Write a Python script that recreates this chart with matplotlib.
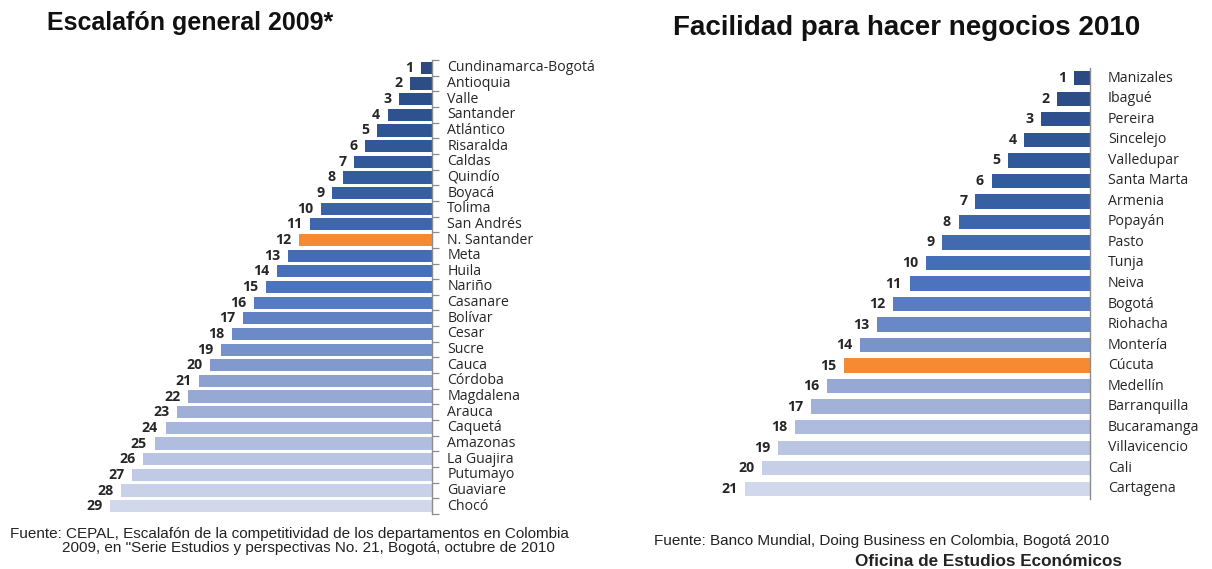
import matplotlib
matplotlib.use("Agg")
import matplotlib.pyplot as plt
from matplotlib.colors import LinearSegmentedColormap, to_hex

# ---------------- data ----------------
left_names = ["Cundinamarca-Bogotá", "Antioquia", "Valle", "Santander", "Atlántico",
              "Risaralda", "Caldas", "Quindío", "Boyacá", "Tolima", "San Andrés",
              "N. Santander", "Meta", "Huila", "Nariño", "Casanare", "Bolívar",
              "Cesar", "Sucre", "Cauca", "Córdoba", "Magdalena", "Arauca",
              "Caquetá", "Amazonas", "La Guajira", "Putumayo", "Guaviare", "Chocó"]
left_ranks = [1, 2, 3, 4, 5, 6, 7, 8, 9, 10, 11, 12, 13, 14, 15, 16, 17, 18, 19,
              20, 21, 22, 23, 24, 25, 26, 27, 28, 29]
left_highlight = "N. Santander"

right_names = ["Manizales", "Ibagué", "Pereira", "Sincelejo", "Valledupar",
               "Santa Marta", "Armenia", "Popayán", "Pasto", "Tunja", "Neiva",
               "Bogotá", "Riohacha", "Montería", "Cúcuta", "Medellín",
               "Barranquilla", "Bucaramanga", "Villavicencio", "Cali", "Cartagena"]
right_ranks = [1, 2, 3, 4, 5, 6, 7, 8, 9, 10, 11, 12, 13, 14, 15, 16, 17, 18,
               19, 20, 21]
right_highlight = "Cúcuta"

title_left = "Escalafón general 2009*"
title_right = "Facilidad para hacer negocios 2010"
source_left_1 = "Fuente: CEPAL, Escalafón de la competitividad de los departamentos en Colombia"
source_left_2 = "2009, en \"Serie Estudios y perspectivas No. 21, Bogotá, octubre de 2010"
source_right = "Fuente: Banco Mundial, Doing Business en Colombia, Bogotá 2010"
office = "Oficina de Estudios Económicos"

# ---------------- style ----------------
ORANGE = "#F58A33"
cmap = LinearSegmentedColormap.from_list(
    "blues", [(0.0, "#2B4A82"), (0.25, "#335C9E"), (0.5, "#4A73BE"),
              (0.72, "#8EA2D1"), (1.0, "#D2D8EB")])
LABEL_FONT = ["Open Sans", "DejaVu Sans"]
TITLE_FONT = ["Liberation Sans", "DejaVu Sans"]
TXT = "#262626"
AXC = "#8C8C8C"

W, H = 1212, 569
fig = plt.figure(figsize=(W / 100, H / 100), dpi=100)
fig.patch.set_facecolor("white")


def panel(rect, names, ranks, highlight, xmax, bar_h, ticks, label_dx, fs):
    x0, x1, ytop, ybot = rect
    ax = fig.add_axes([x0 / W, 1 - ybot / H, (x1 - x0) / W, (ybot - ytop) / H])
    n = len(names)
    pos = list(range(n))
    cols = []
    for i, nm in enumerate(names):
        cols.append(ORANGE if nm == highlight else to_hex(cmap(i / (n - 1))))
    ax.barh(pos, ranks, height=bar_h, color=cols, edgecolor="none", zorder=2)
    ax.set_xlim(xmax, 0)
    ax.set_ylim(n - 0.5, -0.5)
    for s in ["top", "left", "bottom"]:
        ax.spines[s].set_visible(False)
    ax.spines["right"].set_color(AXC)
    ax.spines["right"].set_linewidth(1.0)
    ax.set_xticks([])
    ax.yaxis.tick_right()
    ax.set_yticks([])
    if ticks:
        ax.set_yticks([k - 0.5 for k in range(n + 1)], minor=True)
        ax.tick_params(axis="y", which="minor", direction="out", length=5,
                       width=0.9, color=AXC, right=True, left=False)
    else:
        ax.tick_params(axis="y", which="both", length=0)
    for i, (nm, r) in enumerate(zip(names, ranks)):
        ax.annotate(str(r), xy=(r, i), xytext=(-5.5, 0), textcoords="offset points",
                    ha="right", va="center", fontsize=fs, fontweight="bold",
                    color=TXT, family=LABEL_FONT)
        ax.annotate(nm, xy=(1, i), xycoords=("axes fraction", "data"),
                    xytext=(label_dx, 0), textcoords="offset points",
                    ha="left", va="center", fontsize=fs, color=TXT,
                    family=LABEL_FONT)
    return ax


panel((99, 432, 60, 514), left_names, left_ranks, left_highlight, 30, 0.78,
      True, 11, 10.2)
panel((729, 1090, 68, 499), right_names, right_ranks, right_highlight, 22, 0.7,
      False, 13, 10.2)

fig.text(190 / W, 1 - 23 / H, title_left, ha="center", va="center",
         fontsize=18, fontweight="bold", color="#111111", family=TITLE_FONT)
fig.text(907 / W, 1 - 28 / H, title_right, ha="center", va="center",
         fontsize=20, fontweight="bold", color="#111111", family=TITLE_FONT)

fig.text(10 / W, 1 - 534 / H, source_left_1, ha="left", va="center",
         fontsize=11, color="#222222", family=TITLE_FONT)
fig.text(62 / W, 1 - 548 / H, source_left_2, ha="left", va="center",
         fontsize=11, color="#222222", family=TITLE_FONT)
fig.text(654 / W, 1 - 541 / H, source_right, ha="left", va="center",
         fontsize=11, color="#222222", family=TITLE_FONT)
fig.text(855 / W, 1 - 562 / H, office, ha="left", va="center",
         fontsize=12.3, fontweight="bold", color="#222222", family=TITLE_FONT)

fig.savefig("out.png", dpi=100, facecolor="white")
